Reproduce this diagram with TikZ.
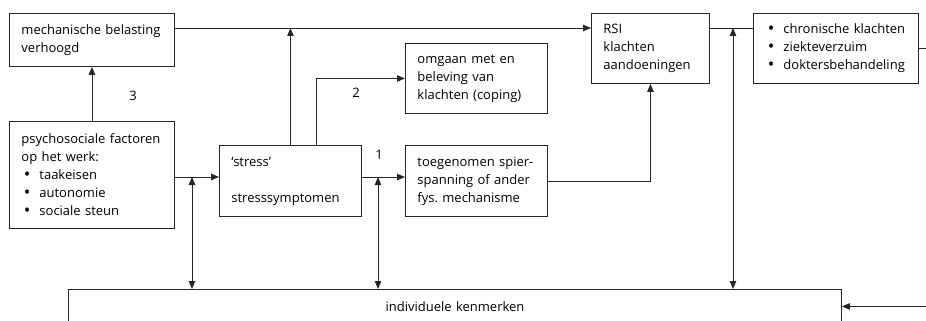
\documentclass[tikz,border=0pt]{standalone}
\usepackage{fontspec}
\setmainfont{Open Sans}
\usetikzlibrary{arrows.meta,calc}
\newcommand{\bul}[1]{\makebox[18pt][l]{\hspace{2.5pt}\raisebox{-0.3pt}{\scalebox{1.35}{•}}}#1}
\begin{document}
\begin{tikzpicture}[x=1pt,y=-1pt,
  box/.style={draw=black!85,line width=0.9pt,rectangle,anchor=north west,inner xsep=12pt,inner ysep=0pt,
    align=left,font=\fontsize{13}{18}\selectfont},
  lbl/.style={font=\fontsize{13}{18}\selectfont,inner sep=0pt},
  ln/.style={draw=black!85,line width=0.9pt},
  arr/.style={ln,-{Triangle[length=8pt,width=6.5pt]}},
  darr/.style={ln,{Triangle[length=8pt,width=6.5pt]}-{Triangle[length=8pt,width=6.5pt]}}]
\useasboundingbox (0,0) rectangle (926,321);
\clip (0,0) rectangle (926,321);
\node[box,text width=141pt,minimum height=53pt] (mech) at (9,13) {mechanische~belasting\\verhoogd};
\node[box,text width=141pt,minimum height=107pt] (psy) at (9,121) {psychosociale~factoren\\op~het~werk:\\\bul{taakeisen}\\\bul{autonomie}\\\bul{sociale~steun}};
\node[box,text width=118pt,minimum height=71pt] (stress) at (219,145) {‘stress’\\[18pt]stresssymptomen};
\node[box,text width=118pt,minimum height=70pt] (coping) at (405,43) {omgaan~met~en\\beleving~van\\klachten~(coping)};
\node[box,text width=118pt,minimum height=71pt] (toeg) at (405,145) {toegenomen~spier-\\spanning~of~ander\\fys.~mechanisme};
\node[box,text width=94pt,minimum height=70pt] (rsi) at (591,13) {RSI\\klachten\\aandoeningen};
\node[box,text width=141pt,minimum height=70pt] (chron) at (753,13) {\bul{chronische~klachten}\\\bul{ziekteverzuim}\\\bul{doktersbehandeling}};
\node[box,align=center,text width=749pt,minimum height=34pt] (ind) at (68,289) {individuele kenmerken};
\node[lbl] (n3) at (133,96) {3};
\node[lbl] (n2) at (356,93) {2};
\node[lbl] (n1) at (379,155) {1};
\coordinate (tl) at ([yshift=-15pt]mech.north east);
\coordinate (r1) at (0,177);
\coordinate (j1) at (192,177);
\coordinate (j2) at (378,177);
\coordinate (j3) at (733,0);
\coordinate (redge) at (926,0);
\draw[arr] (tl) -- (rsi.west |- tl);
\draw[arr] (stress.north) -- (stress.north |- tl);
\draw[arr] (psy.north) -- (mech.south);
\draw[arr] ([xshift=97pt]stress.north west) |- (coping.west);
\draw[arr] (psy.east |- r1) -- (stress.west |- r1);
\draw[arr] (stress.east |- r1) -- (toeg.west |- r1);
\draw[darr] (j1) -- (j1 |- ind.north);
\draw[darr] (j2) -- (j2 |- ind.north);
\draw[arr] ([yshift=-0.5pt]toeg.east) -| (rsi.south);
\draw[ln] (rsi.east |- tl) -- (chron.west |- tl);
\draw[darr] (j3 |- tl) -- (j3 |- ind.north);
\draw[ln] (chron.east) -- (redge |- chron.east);
\draw[arr] (redge |- ind.east) -- (ind.east);
\end{tikzpicture}
\end{document}
